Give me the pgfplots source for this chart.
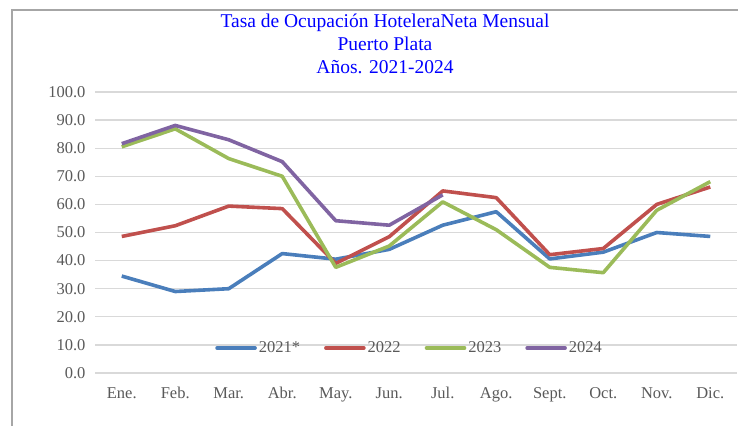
\documentclass[border=0pt]{standalone}
\usepackage{pgfplots}
\pgfplotsset{compat=1.18}
\usepackage{fontspec}
\setmainfont{Liberation Serif}

\definecolor{s21}{HTML}{4A7EBB}
\definecolor{s22}{HTML}{C0504D}
\definecolor{s23}{HTML}{9BBB59}
\definecolor{s24}{HTML}{8064A2}
\definecolor{gridc}{HTML}{D9D9D9}
\definecolor{tickc}{HTML}{595959}

\begin{document}
\begin{tikzpicture}
\useasboundingbox (0pt,0pt) rectangle (738pt,-426pt);
\draw[color=black!35, line width=1.5pt] (12pt,-426pt) -- (12pt,-10pt) -- (738pt,-10pt);
\node[align=center, text=blue, font=\fontsize{19.5}{23}\selectfont] at (385pt,-44pt)
  {Tasa de Ocupación HoteleraNeta Mensual\\Puerto Plata\\Años. 2021-2024};
\begin{axis}[
    at={(95pt,-373pt)}, anchor=south west,
    scale only axis,
    width=642pt, height=281pt,
    xmin=-0.5, xmax=11.5,
    ymin=0, ymax=100,
    xtick={0,...,11},
    xticklabels={Ene.,Feb.,Mar.,Abr.,May.,Jun.,Jul.,Ago.,Sept.,Oct.,Nov.,Dic.},
    ytick={0,10,...,100},
    /pgf/number format/fixed,
    /pgf/number format/fixed zerofill,
    /pgf/number format/precision=1,
    /pgf/number format/assume math mode=true,
    ymajorgrids,
    grid style={gridc, line width=1.3pt},
    axis line style={draw=none},
    major tick length=0pt,
    tick label style={text=tickc, font=\fontsize{16.5}{19}\selectfont},
    xticklabel style={yshift=-11pt},
    yticklabel style={xshift=-6pt},
    legend columns=4,
    legend image code/.code={\draw[#1, line width=3.6pt, line cap=round] (0pt,0pt) -- (38pt,0pt);},
    legend style={at={(0.49,0.089)}, anchor=center, draw=none, fill=none,
        font=\fontsize{16.5}{19}\selectfont, text=tickc,
        nodes={inner sep=2pt},
        /tikz/every even column/.append style={column sep=22pt}},
    every axis plot/.append style={line width=3.6pt, line join=round},
]
\addplot[s21] coordinates {
 (0,34.5) (1,29.0) (2,30.0) (3,42.5) (4,40.5) (5,44.0)
 (6,52.6) (7,57.4) (8,40.6) (9,43.0) (10,50.0) (11,48.6)
};
\addlegendentry{2021*}
\addplot[s22] coordinates {
 (0,48.6) (1,52.4) (2,59.4) (3,58.5) (4,39.0) (5,48.5)
 (6,64.8) (7,62.4) (8,42.1) (9,44.3) (10,60.0) (11,66.2)
};
\addlegendentry{2022}
\addplot[s23] coordinates {
 (0,80.5) (1,86.9) (2,76.3) (3,70.0) (4,37.6) (5,45.2)
 (6,60.9) (7,51.0) (8,37.6) (9,35.7) (10,57.9) (11,68.1)
};
\addlegendentry{2023}
\addplot[s24] coordinates {
 (0,81.6) (1,88.1) (2,83.0) (3,75.2) (4,54.2) (5,52.6) (6,63.4)
};
\addlegendentry{2024}
\end{axis}
\end{tikzpicture}
\end{document}
